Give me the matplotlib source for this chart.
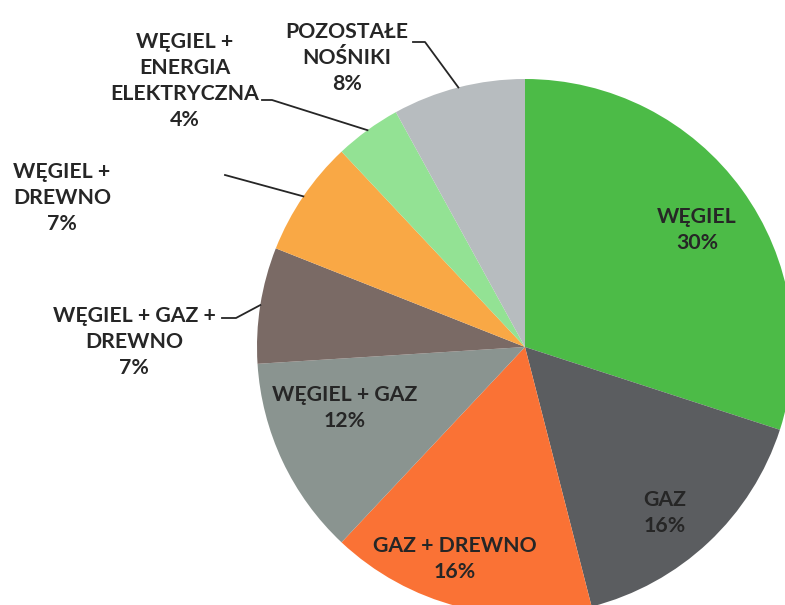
import numpy as np
import matplotlib.pyplot as plt

# dane
labels = ["WĘGIEL", "GAZ", "GAZ + DREWNO", "WĘGIEL + GAZ",
          "WĘGIEL + GAZ +\nDREWNO", "WĘGIEL +\nDREWNO",
          "WĘGIEL +\nENERGIA\nELEKTRYCZNA", "POZOSTAŁE\nNOŚNIKI"]
shares = [30, 16, 16, 12, 7, 7, 4, 8]
colors = ["#4cbb47", "#5b5d60", "#fa7235", "#8a9490",
          "#7a6a65", "#f9a845", "#93e294", "#b7bcbf"]

W, H = 785, 605
fig = plt.figure(figsize=(7.85, 6.05), dpi=100)
ax = fig.add_axes([0, 0, 1, 1])

cx, cy, r = 525, H - 347, 268
wedges, _ = ax.pie(shares, colors=colors, startangle=90, counterclock=False,
                   center=(cx, cy), radius=r, frame=True,
                   wedgeprops=dict(edgecolor='none'))
ax.set_xlim(0, W)
ax.set_ylim(0, H)
ax.set_aspect('equal')
ax.axis('off')

font = dict(family='Lato', fontweight='bold', fontsize=15.3, color='#262626',
            ha='center', va='center', linespacing=1.38)

# etykiety w środku wycinków (pozycje w pikselach)
inside = {0: (697, 230), 1: (665, 513), 2: (455, 559), 3: (345, 408)}
for i, (x, y) in inside.items():
    ax.text(x, H - y, f"{labels[i]}\n{shares[i]}%", **font)

# etykiety zewnętrzne z liniami
outside = {4: ((134, 342), [(222, 318), (236, 318)]),
           5: ((62, 198), [(225, 175)]),
           6: ((185, 81), [(262, 100), (272, 100)]),
           7: ((347, 58), [(413, 42), (425, 42)])}
for i, ((x, y), pts) in outside.items():
    ax.text(x, H - y, f"{labels[i]}\n{shares[i]}%", **font)
    w = wedges[i]
    mid = np.deg2rad((w.theta1 + w.theta2) / 2)
    ex, ey = cx + r * np.cos(mid), cy + r * np.sin(mid)
    xs = [p[0] for p in pts] + [ex]
    ys = [H - p[1] for p in pts] + [ey]
    ax.plot(xs, ys, color='#262626', lw=1.3)

fig.savefig("out.png", dpi=100)
